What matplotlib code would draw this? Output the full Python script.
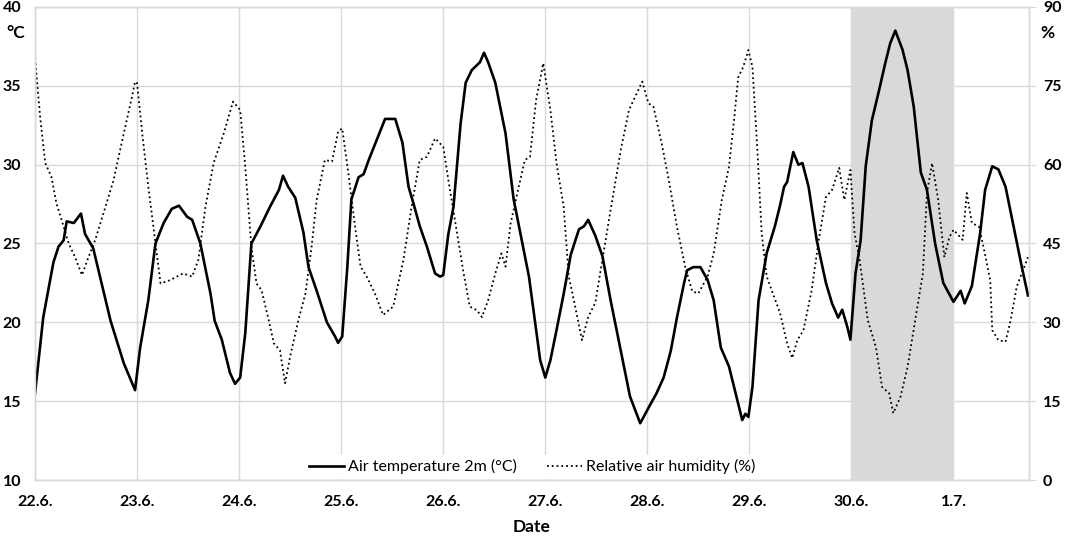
import numpy as np
import matplotlib
matplotlib.use("Agg")
import matplotlib.pyplot as plt

# days since 22.6. 00:00
temp_day = [0.00, 0.08, 0.18, 0.23, 0.28, 0.31, 0.38, 0.45, 0.49, 0.57, 0.74, 0.87, 0.98,
            1.03, 1.11, 1.18, 1.26, 1.34, 1.41, 1.49, 1.54, 1.62, 1.72, 1.76, 1.83, 1.91, 1.96,
            2.01, 2.06, 2.12, 2.21, 2.30, 2.39, 2.43, 2.48, 2.55, 2.63, 2.68, 2.76, 2.86, 2.94, 2.97,
            3.01, 3.06, 3.10, 3.17, 3.22, 3.27, 3.35, 3.43, 3.53, 3.60, 3.66, 3.71, 3.77, 3.84, 3.92, 3.97,
            4.00, 4.05, 4.10, 4.17, 4.22, 4.28, 4.36, 4.40, 4.44, 4.51, 4.61, 4.69, 4.84, 4.95,
            5.00, 5.05, 5.11, 5.18, 5.25, 5.33, 5.38, 5.42, 5.49, 5.56, 5.64, 5.74, 5.83, 5.93, 5.98,
            6.03, 6.09, 6.16, 6.23, 6.29, 6.36, 6.39, 6.45, 6.52, 6.59, 6.65, 6.72, 6.80, 6.88, 6.93, 6.96, 6.99,
            7.03, 7.09, 7.17, 7.25, 7.30, 7.34, 7.37, 7.43, 7.48, 7.52, 7.58, 7.66, 7.75, 7.81, 7.87, 7.91, 7.96, 7.99,
            8.04, 8.09, 8.14, 8.20, 8.27, 8.33, 8.38, 8.43, 8.50, 8.55, 8.61, 8.68, 8.74, 8.82, 8.90,
            9.00, 9.07, 9.11, 9.18, 9.26, 9.31, 9.38, 9.44, 9.51, 9.57, 9.67, 9.73]
temp_val = [15.5, 20.3, 23.8, 24.8, 25.2, 26.4, 26.3, 26.9, 25.6, 24.7, 20.1, 17.4, 15.7,
            18.4, 21.4, 25.0, 26.3, 27.2, 27.4, 26.7, 26.5, 25.0, 21.8, 20.1, 18.9, 16.8, 16.1,
            16.5, 19.3, 25.0, 26.1, 27.3, 28.4, 29.3, 28.6, 27.9, 25.7, 23.5, 22.0, 20.0, 19.1, 18.7,
            19.1, 23.5, 27.8, 29.2, 29.4, 30.3, 31.6, 32.9, 32.9, 31.4, 28.6, 27.5, 26.1, 24.8, 23.1, 22.9,
            23.0, 25.6, 27.3, 32.6, 35.2, 36.0, 36.5, 37.1, 36.5, 35.2, 32.0, 27.8, 22.9, 17.6,
            16.5, 17.6, 19.5, 21.8, 24.3, 25.9, 26.1, 26.5, 25.5, 24.2, 21.4, 18.2, 15.3, 13.6, 14.2,
            14.8, 15.5, 16.5, 18.2, 20.3, 22.5, 23.3, 23.5, 23.5, 22.7, 21.4, 18.4, 17.2, 15.1, 13.8, 14.2, 14.0,
            15.9, 21.4, 24.4, 26.1, 27.4, 28.6, 28.9, 30.8, 30.0, 30.1, 28.6, 25.2, 22.5, 21.2, 20.3, 20.8, 19.7, 18.9,
            23.1, 25.2, 29.9, 32.8, 34.7, 36.4, 37.7, 38.5, 37.3, 36.0, 33.7, 29.5, 28.4, 25.0, 22.5,
            21.3, 22.0, 21.2, 22.3, 25.6, 28.4, 29.9, 29.7, 28.6, 26.7, 23.5, 21.7]

hum_day = [0.00, 0.05, 0.10, 0.16, 0.21, 0.26, 0.33, 0.39, 0.46, 0.52, 0.59, 0.67, 0.77, 0.87, 0.95, 0.98,
           1.00, 1.05, 1.11, 1.18, 1.23, 1.32, 1.45, 1.54, 1.60, 1.67, 1.75, 1.85, 1.94,
           2.01, 2.06, 2.12, 2.17, 2.22, 2.29, 2.34, 2.40, 2.45, 2.50, 2.58, 2.65, 2.71, 2.76, 2.84, 2.91, 2.97,
           3.01, 3.07, 3.14, 3.19, 3.25, 3.33, 3.41, 3.51, 3.61, 3.69, 3.77, 3.84, 3.92,
           4.00, 4.05, 4.13, 4.20, 4.26, 4.33, 4.38, 4.44, 4.51, 4.57, 4.61, 4.66, 4.74, 4.80, 4.85, 4.91, 4.98,
           5.05, 5.11, 5.18, 5.23, 5.28, 5.36, 5.42, 5.49, 5.56, 5.64, 5.74, 5.82, 5.88, 5.95,
           6.01, 6.06, 6.14, 6.21, 6.29, 6.37, 6.44, 6.50, 6.59, 6.65, 6.73, 6.80, 6.85, 6.89, 6.94, 6.99,
           7.03, 7.08, 7.12, 7.17, 7.30, 7.37, 7.42, 7.47, 7.53, 7.61, 7.68, 7.75, 7.81, 7.88, 7.93, 7.99,
           8.03, 8.08, 8.16, 8.24, 8.30, 8.37, 8.41, 8.48, 8.55, 8.63, 8.70, 8.74, 8.79, 8.85, 8.91, 8.96,
           9.00, 9.09, 9.13, 9.18, 9.25, 9.30, 9.36, 9.38, 9.44, 9.51, 9.56, 9.62, 9.73]
hum_val = [80.2, 69.1, 60.3, 57.7, 52.6, 49.5, 45.0, 42.5, 39.0, 42.2, 45.7, 50.7, 57.1, 66.0, 72.9, 75.8,
           75.5, 66.0, 55.8, 45.0, 37.4, 38.0, 39.3, 38.7, 41.9, 52.0, 60.3, 66.0, 72.0,
           70.4, 59.6, 44.4, 37.4, 36.1, 30.4, 26.0, 24.7, 18.4, 23.5, 30.4, 35.5, 44.4, 53.3, 60.9, 60.6, 66.3,
           66.9, 58.4, 47.6, 40.6, 38.7, 35.5, 31.4, 33.0, 41.9, 52.0, 60.9, 61.5, 65.0,
           63.4, 57.1, 47.6, 39.3, 33.0, 32.3, 31.0, 34.2, 39.3, 43.1, 40.6, 48.8, 55.8, 60.9, 61.5, 72.3, 79.3,
           70.4, 60.3, 52.0, 38.7, 34.2, 26.6, 31.0, 33.7, 41.9, 51.4, 62.8, 70.4, 72.9, 75.8,
           71.7, 71.0, 64.1, 57.1, 48.2, 40.6, 35.9, 35.5, 38.7, 43.1, 53.3, 59.6, 68.5, 76.6, 78.6, 81.8,
           78.6, 62.2, 47.0, 38.7, 31.8, 26.0, 23.2, 26.6, 28.5, 36.1, 45.7, 53.8, 55.2, 59.4, 53.3, 59.0,
           47.0, 41.9, 30.4, 25.3, 17.7, 16.5, 12.7, 15.8, 21.5, 31.0, 39.3, 54.6, 60.3, 53.3, 42.4, 46.2,
           47.6, 45.7, 54.6, 48.9, 48.2, 43.8, 38.0, 28.5, 26.6, 26.3, 30.4, 36.8, 42.4]

date_labels = ['22.6.', '23.6.', '24.6.', '25.6.', '26.6.', '27.6.', '28.6.', '29.6.', '30.6.', '1.7.']
heat_day = (8, 9)  # shaded day 30.6.

grid_col = '#d9d9d9'
plt.rcParams['font.family'] = ['Lato', 'DejaVu Sans']

fig = plt.figure(figsize=(10.65, 5.38), dpi=100)
ax = fig.add_axes([0.0329, 0.1078, 0.9333, 0.8792])
ax2 = ax.twinx()

ax.axvspan(heat_day[0], heat_day[1], color='#d9d9d9', zorder=1, lw=0)
l1, = ax.plot(temp_day, temp_val, color='black', lw=1.9, zorder=3, label='Air temperature 2m (°C)')
l2, = ax2.plot(hum_day, hum_val, color='black', lw=1.3, ls=':', label='Relative air humidity (%)')

ax.set_xlim(0, 9.74)
ax.set_ylim(10, 40)
ax2.set_ylim(0, 90)
ax.set_xticks(np.arange(len(date_labels)))
ax.set_xticklabels(date_labels)
ax.set_yticks(np.arange(10, 41, 5))
ax2.set_yticks(np.arange(0, 91, 15))

ax.grid(True, color=grid_col, lw=1, zorder=0)
ax.set_axisbelow(True)
for a in (ax, ax2):
    for s in a.spines.values():
        s.set_color(grid_col)
        s.set_linewidth(1)

ax.tick_params(axis='x', length=0, pad=11, labelsize=11.5)
ax.tick_params(axis='y', length=0, pad=10, labelsize=11.5)
ax2.tick_params(axis='y', length=5, color=grid_col, pad=5, labelsize=11.5)
for lab in ax.get_xticklabels() + ax.get_yticklabels() + ax2.get_yticklabels():
    lab.set_fontweight('bold')

ax.set_xlabel('Date', fontweight='bold', fontsize=12.5, labelpad=7)
fig.text(16 / 1065, 1 - 33 / 538, '°C', fontweight='bold', fontsize=12.5, ha='center', va='center')
fig.text(1047 / 1065, 1 - 33 / 538, '%', fontweight='bold', fontsize=12.5, ha='center', va='center')

leg = ax2.legend(handles=[l1, l2], loc='lower center', ncol=2, fontsize=11.5, frameon=True,
                 framealpha=1, facecolor='white', edgecolor='none', borderaxespad=0.05,
                 handlelength=2.2, handletextpad=0.25, columnspacing=1.9, fancybox=False,
                 borderpad=0.3)

fig.savefig('out.png', dpi=100)
